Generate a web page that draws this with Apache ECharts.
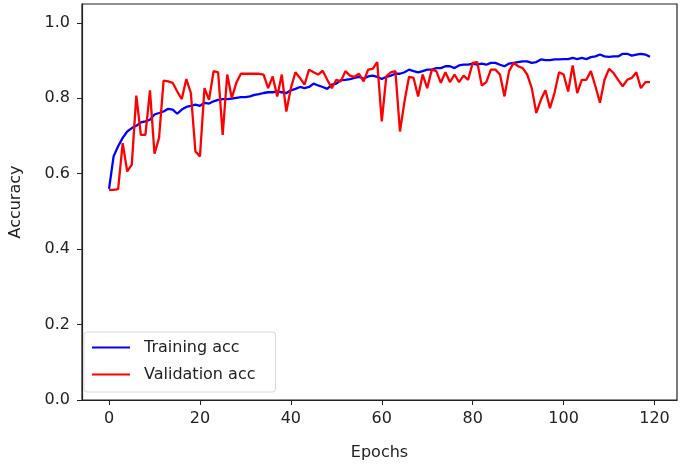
<!DOCTYPE html>
<html>
<head>
<meta charset="utf-8">
<script src="https://cdn.jsdelivr.net/npm/echarts@6/dist/echarts.min.js"></script>
<style>
html,body{margin:0;padding:0;background:#fff;}
#chart{width:685px;height:467px;}
</style>
</head>
<body>
<div id="chart"></div>
<script>
const xTicks = [0, 20, 40, 60, 80, 100, 120];
const yTicks = [0.0, 0.2, 0.4, 0.6, 0.8, 1.0];
const seriesNames = ['Training acc', 'Validation acc'];

const trainAcc = [
0.560,0.646,0.673,0.695,0.712,0.721,0.727,0.736,0.739,0.743,
0.757,0.761,0.765,0.772,0.770,0.759,0.770,0.777,0.780,0.783,
0.780,0.788,0.786,0.792,0.796,0.798,0.798,0.799,0.801,0.803,
0.803,0.805,0.809,0.811,0.814,0.816,0.816,0.818,0.816,0.814,
0.821,0.825,0.830,0.827,0.830,0.839,0.834,0.830,0.825,0.836,
0.839,0.848,0.849,0.851,0.854,0.857,0.852,0.858,0.860,0.857,
0.851,0.857,0.860,0.865,0.865,0.869,0.876,0.872,0.869,0.872,
0.876,0.876,0.880,0.880,0.885,0.885,0.880,0.887,0.889,0.889,
0.892,0.889,0.892,0.889,0.894,0.894,0.889,0.885,0.892,0.894,
0.896,0.898,0.898,0.894,0.896,0.903,0.901,0.901,0.903,0.903,
0.904,0.904,0.907,0.904,0.907,0.904,0.909,0.911,0.916,0.911,
0.910,0.911,0.911,0.918,0.918,0.913,0.916,0.918,0.916,0.910
];

const valAcc = [
0.557,0.557,0.559,0.681,0.606,0.624,0.807,0.703,0.703,0.821,
0.653,0.695,0.847,0.845,0.841,0.818,0.798,0.851,0.814,0.659,
0.646,0.827,0.796,0.872,0.869,0.703,0.863,0.801,0.841,0.865,
0.865,0.865,0.865,0.865,0.863,0.827,0.858,0.805,0.863,0.765,
0.827,0.869,0.854,0.836,0.876,0.869,0.863,0.873,0.849,0.827,
0.849,0.845,0.872,0.860,0.857,0.865,0.845,0.876,0.878,0.896,
0.739,0.858,0.869,0.872,0.712,0.792,0.857,0.854,0.805,0.863,
0.827,0.876,0.872,0.841,0.869,0.843,0.863,0.843,0.860,0.849,
0.894,0.896,0.834,0.843,0.876,0.876,0.863,0.805,0.872,0.894,
0.885,0.880,0.863,0.827,0.761,0.796,0.821,0.774,0.814,0.869,
0.863,0.818,0.887,0.814,0.849,0.849,0.872,0.832,0.788,0.849,
0.878,0.867,0.849,0.832,0.849,0.854,0.869,0.827,0.843,0.843
];

const FONT = 'DejaVu Sans';
const chart = echarts.init(document.getElementById('chart'), null, {renderer: 'canvas'});
chart.setOption({
  animation: false,
  backgroundColor: '#fff',
  grid: {left: 76, right: 8, top: 4, bottom: 67, show: true, borderColor: '#222', borderWidth: 1.2, backgroundColor: 'transparent'},
  legend: {
    orient: 'vertical', left: 84, top: 332,
    padding: [6, 20, 8, 8],
    itemWidth: 38, itemHeight: 2, itemGap: 8,
    icon: 'rect',
    backgroundColor: '#fff',
    borderColor: '#d8d8d8', borderWidth: 1, borderRadius: 3,
    textStyle: {fontFamily: FONT, fontSize: 16, color: '#222', lineHeight: 19, padding: [0, 0, 0, 9]},
    data: seriesNames
  },
  xAxis: {
    type: 'value', min: -5.95, max: 124.95,
    name: 'Epochs', nameLocation: 'middle', nameGap: 45,
    nameTextStyle: {fontFamily: FONT, fontSize: 16, color: '#222'},
    axisLine: {show: true, onZero: false, lineStyle: {color: '#222', width: 1.2}},
    axisTick: {show: true, inside: false, length: 5, customValues: xTicks, lineStyle: {color: '#222'}},
    axisLabel: {customValues: xTicks, margin: 11, fontFamily: FONT, fontSize: 16, color: '#222'},
    splitLine: {show: false}
  },
  yAxis: {
    type: 'value', min: 0, max: 1.05,
    name: 'Accuracy', nameLocation: 'middle', nameGap: 58, nameRotate: 90,
    nameTextStyle: {fontFamily: FONT, fontSize: 16, color: '#222'},
    axisLine: {show: true, onZero: false, lineStyle: {color: '#222', width: 1.2}},
    axisTick: {show: true, inside: false, length: 5, customValues: yTicks, lineStyle: {color: '#222'}},
    axisLabel: {customValues: yTicks, margin: 12, fontFamily: FONT, fontSize: 16, color: '#222',
      formatter: v => Number(v).toFixed(1)},
    splitLine: {show: false}
  },
  series: [
    {name: seriesNames[0], type: 'line', showSymbol: false, symbol: 'none',
     itemStyle: {color: '#0000ff'}, lineStyle: {color: '#0000ff', width: 2.3},
     data: trainAcc.map((v, i) => [i, v])},
    {name: seriesNames[1], type: 'line', showSymbol: false, symbol: 'none',
     itemStyle: {color: '#ff0000'}, lineStyle: {color: '#ff0000', width: 2.3},
     data: valAcc.map((v, i) => [i, v])}
  ]
});
</script>
</body>
</html>
